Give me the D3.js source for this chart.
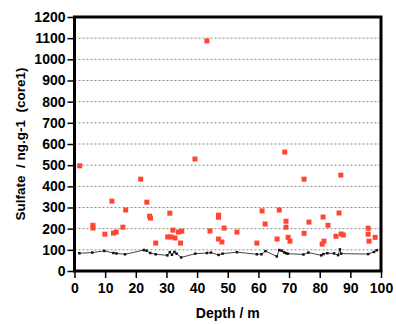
<!DOCTYPE html>
<html>
<head>
<meta charset="utf-8">
<script src="https://cdn.jsdelivr.net/npm/d3@7"></script>
<style>
  body { margin: 0; background: #fff; }
  svg { display: block; font-family: "Liberation Sans", Arial, sans-serif; }
</style>
</head>
<body>
<svg id="chart"></svg>
<script>
// Sulfate samples (depth in m, value in ng/g)
var sampleDepth = [1.7, 6.0, 6.0, 9.9, 12.2, 12.7, 13.6, 15.8, 16.7, 21.6,
    23.6, 24.5, 24.8, 26.5, 30.4, 31.1, 31.5, 32.1, 32.8, 33.9,
    34.6, 35.0, 39.3, 43.2, 44.2, 47.0, 47.0, 47.0, 48.1, 48.8,
    53.0, 59.5, 61.2, 62.2, 66.1, 66.8, 68.6, 69.0, 69.0, 69.7,
    70.3, 74.9, 74.9, 76.5, 80.8, 81.1, 81.4, 82.7, 85.3, 86.3,
    86.9, 87.0, 87.7, 95.8, 95.8, 96.1, 98.1];
var sampleValue = [497, 216, 203, 174, 330, 179, 184, 207, 288, 434,
    325, 259, 250, 132, 161, 273, 161, 193, 156, 184,
    132, 188, 529, 1087, 189, 264, 254, 151, 137, 203,
    184, 132, 284, 222, 151, 288, 562, 235, 207, 159,
    141, 434, 178, 231, 127, 255, 141, 216, 164, 274,
    453, 175, 170, 202, 174, 141, 159];

// background level (black line)
var baseDepth = [1.6, 5.8, 9.7, 12.7, 13.7, 16.5, 22.6, 23.5, 24.7, 26.5,
    30.3, 31.1, 31.8, 32.6, 33.3, 34.8, 39.4, 43.2, 44.5, 47.0,
    48.3, 53.0, 59.5, 61.0, 62.3, 66.0, 66.8, 67.6, 68.4, 69.0,
    69.6, 74.7, 76.3, 80.5, 81.2, 82.5, 84.7, 86.0, 86.6, 87.0,
    95.8, 97.7, 98.6];
var baseValue = [84, 87, 95, 85, 83, 79, 99, 96, 85, 79,
    74, 89, 77, 90, 82, 64, 82, 85, 87, 76,
    82, 89, 79, 79, 94, 69, 99, 96, 88, 84,
    82, 78, 87, 74, 80, 84, 83, 75, 102, 82,
    80, 90, 98];

var xTicks = [0, 10, 20, 30, 40, 50, 60, 70, 80, 90, 100];
var yTicks = [0, 100, 200, 300, 400, 500, 600, 700, 800, 900, 1000, 1100, 1200];
var gridValues = [100, 200, 300, 400, 500, 600, 700, 800, 900, 1000, 1100];

var w = 396, h = 324;
var margin = { top: 17, right: 15, bottom: 53, left: 74.5 };
var width = w - margin.left - margin.right,
    height = h - margin.top - margin.bottom;

var svg = d3.select("#chart").attr("width", w).attr("height", h);
var g = svg.append("g")
    .attr("transform", "translate(" + margin.left + "," + margin.top + ")");

var x = d3.scaleLinear().domain([0, 100]).range([0, width]);
var y = d3.scaleLinear().domain([0, 1200]).range([height, 0]);

// dotted grid
g.selectAll(".grid")
    .data(gridValues)
    .enter()
    .append("line")
    .attr("class", "grid")
    .attr("x1", 0)
    .attr("x2", width)
    .attr("y1", function(d) { return y(d); })
    .attr("y2", function(d) { return y(d); })
    .style("stroke", "#8a8a8a")
    .style("stroke-width", 1)
    .style("stroke-dasharray", "2,2");

// background line
var pts = baseDepth.map(function(d, i) { return [d, baseValue[i]]; });
g.append("path")
    .datum(pts)
    .attr("fill", "none")
    .attr("stroke", "#444")
    .attr("stroke-width", 1)
    .attr("d", d3.line()
        .x(function(d) { return x(d[0]); })
        .y(function(d) { return y(d[1]); }));

g.selectAll(".bpt")
    .data(pts)
    .enter()
    .append("rect")
    .attr("class", "bpt")
    .attr("x", function(d) { return x(d[0]) - 1.25; })
    .attr("y", function(d) { return y(d[1]) - 1.25; })
    .attr("width", 2.5)
    .attr("height", 2.5)
    .style("fill", "#111");

// red samples
g.selectAll(".pt")
    .data(sampleDepth)
    .enter()
    .append("rect")
    .attr("class", "pt")
    .attr("x", function(d) { return x(d) - 2.5; })
    .attr("y", function(d, i) { return y(sampleValue[i]) - 2.5; })
    .attr("width", 5)
    .attr("height", 5)
    .style("fill", "#ff4632");

// frame
g.append("rect")
    .attr("x", 0)
    .attr("y", 0)
    .attr("width", width)
    .attr("height", height)
    .style("fill", "none")
    .style("stroke", "#000")
    .style("stroke-width", 3);

// axes
var yAxis = g.append("g")
    .call(d3.axisLeft(y).tickValues(yTicks).tickFormat(d3.format("d"))
        .tickSize(7).tickSizeOuter(0).tickPadding(2));
var xAxis = g.append("g")
    .attr("transform", "translate(0," + height + ")")
    .call(d3.axisBottom(x).tickValues(xTicks).tickFormat(d3.format("d"))
        .tickSize(7).tickSizeOuter(0).tickPadding(5));

[yAxis, xAxis].forEach(function(a) {
    a.select(".domain").remove();
    a.selectAll(".tick line").style("stroke", "#000").style("stroke-width", 1.5);
    a.selectAll(".tick text")
        .style("font-family", "'Liberation Sans', Arial, sans-serif")
        .style("font-size", "14px")
        .style("font-weight", "bold")
        .style("fill", "#000");
});

// axis titles
svg.append("text")
    .attr("x", margin.left + width / 2)
    .attr("y", 318)
    .attr("text-anchor", "middle")
    .style("font-size", "14px")
    .style("font-weight", "bold")
    .text("Depth / m");

svg.append("text")
    .attr("transform", "translate(25," + (margin.top + height / 2) + ") rotate(-90)")
    .attr("text-anchor", "middle")
    .style("font-size", "13.5px")
    .style("font-weight", "bold")
    .style("white-space", "pre")
    .text("Sulfate  / ng.g-1  (core1)");
</script>
</body>
</html>
